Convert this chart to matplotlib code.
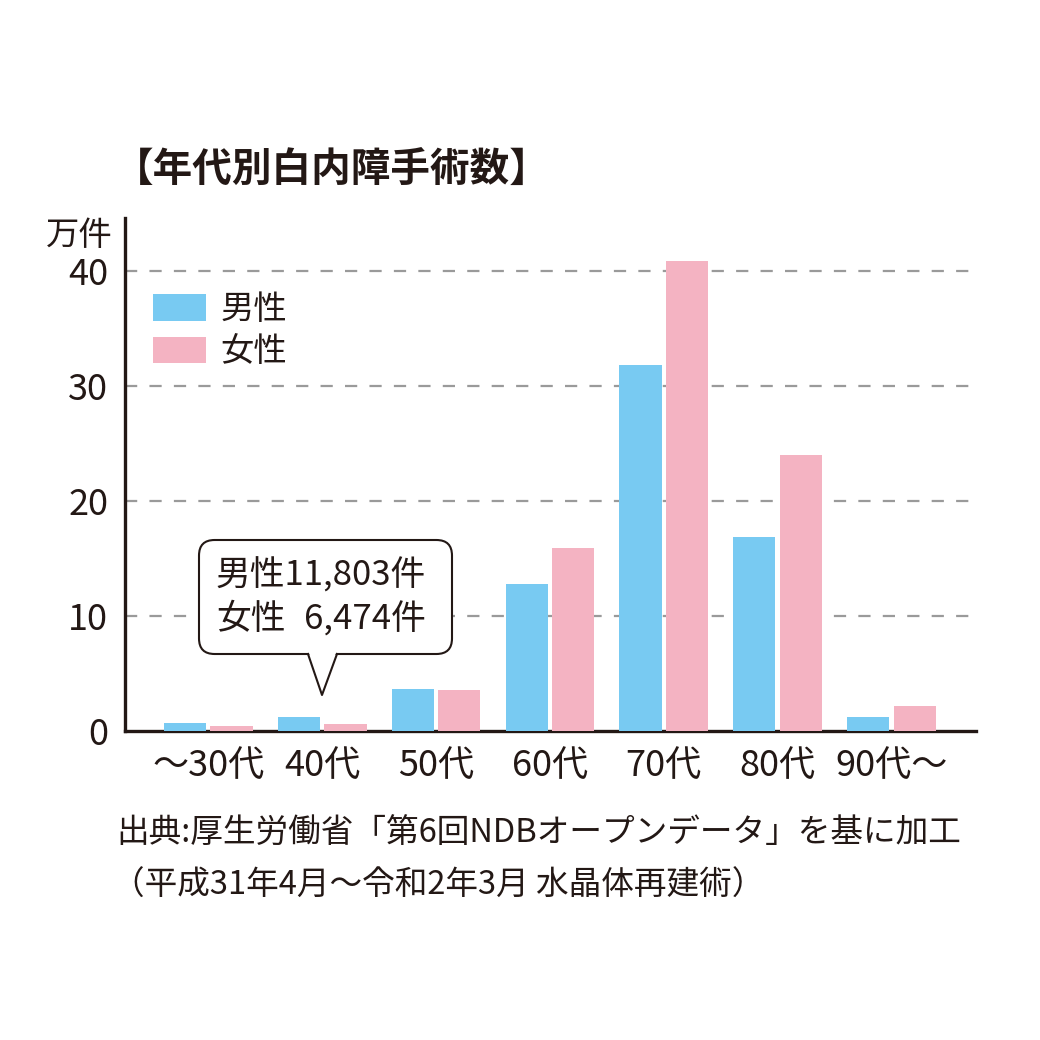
import matplotlib
matplotlib.use("Agg")
import matplotlib.pyplot as plt
import numpy as np
from matplotlib.patches import FancyBboxPatch, Polygon
from matplotlib.lines import Line2D

plt.rcParams['font.family'] = ['Noto Sans CJK JP', 'DejaVu Sans']

# data (万件)
age_groups = ['～30代', '40代', '50代', '60代', '70代', '80代', '90代～']
male = [0.70, 1.18, 3.65, 12.8, 31.8, 16.9, 1.19]
female = [0.45, 0.65, 3.55, 15.9, 40.9, 24.0, 2.2]
series_names = ['男性', '女性']
yticks = [0, 10, 20, 30, 40]

male_color = '#78CAF2'
female_color = '#F4B3C2'
ink = '#231815'

fig = plt.figure(figsize=(10.4, 10.4), dpi=100)
W = 1040.0

def fx(px):
    return px / W

def fy(py):
    return 1 - py / W

ax = fig.add_axes([fx(125), fy(731), fx(976) - fx(125), fy(218) - fy(731)])

x = np.arange(len(age_groups))
bw = 0.37
off = 0.205
ax.bar(x - off, male, bw, color=male_color, label=series_names[0], zorder=3)
ax.bar(x + off, female, bw, color=female_color, label=series_names[1], zorder=3)

ax.set_xlim(-0.73, len(age_groups) - 1 + 0.74)
ax.set_ylim(0, 44.6)

for v in yticks[1:]:
    ax.axhline(v, color='#9a9a9a', lw=1.6, ls=(0, (5.5, 5.5)), zorder=1)

for s in ['top', 'right']:
    ax.spines[s].set_visible(False)
ax.spines['left'].set_linewidth(2.4)
ax.spines['bottom'].set_linewidth(2.4)
ax.spines['left'].set_color(ink)
ax.spines['bottom'].set_color(ink)

ax.set_yticks(yticks)
ax.set_yticklabels([str(v) for v in yticks], fontsize=26, color=ink)
ax.set_xticks(x)
ax.set_xticklabels(age_groups, fontsize=26, color=ink)
ax.tick_params(axis='both', length=0)
ax.tick_params(axis='y', pad=12)
ax.tick_params(axis='x', pad=12)

leg = ax.legend(loc='upper left', bbox_to_anchor=(fx(153), fy(292)),
                bbox_transform=fig.transFigure, frameon=False, fontsize=24,
                handlelength=1.6, handleheight=0.85, handletextpad=0.42,
                labelspacing=0.22, borderpad=0, borderaxespad=0)
for t in leg.get_texts():
    t.set_color(ink)

# unit label
fig.text(fx(113), fy(236), '万件', fontsize=24, color=ink, ha='right', va='center')

# title
fig.text(fx(114), fy(170), '【年代別白内障手術数】', fontsize=28.5, fontweight='bold',
         color=ink, ha='left', va='center')

# callout
box = FancyBboxPatch((fx(199), fy(654)), fx(452) - fx(199), fy(540) - fy(654),
                     boxstyle='round,pad=0,rounding_size=0.015',
                     transform=fig.transFigure, facecolor='white',
                     edgecolor=ink, lw=1.5, zorder=5)
fig.add_artist(box)
tail_fill = Polygon([(fx(308), fy(650)), (fx(322), fy(695)), (fx(337), fy(650))],
                    closed=True, transform=fig.transFigure, facecolor='white',
                    edgecolor='none', zorder=6)
fig.add_artist(tail_fill)
tail_line = Line2D([fx(308), fx(322), fx(337)], [fy(654), fy(695), fy(654)],
                   transform=fig.transFigure, color=ink, lw=1.5, zorder=7)
fig.add_artist(tail_line)

call_male = '男性11,803件'
call_female = '6,474件'
line1 = fig.text(fx(216), fy(576), call_male, fontsize=25, color=ink,
                 ha='left', va='center', zorder=8)
fig.canvas.draw()
right_px = line1.get_window_extent().x1
fig.text(fx(216), fy(620), '女性', fontsize=25, color=ink, ha='left', va='center', zorder=8)
fig.text(right_px / W, fy(620), call_female, fontsize=25, color=ink,
         ha='right', va='center', zorder=8)

# source
fig.text(fx(116), fy(834), '出典:厚生労働省「第6回NDBオープンデータ」を基に加工',
         fontsize=23.5, color=ink, ha='left', va='center')
fig.text(fx(112), fy(886), '（平成31年4月～令和2年3月 水晶体再建術）',
         fontsize=23.5, color=ink, ha='left', va='center')

fig.savefig('out.png', dpi=100, facecolor='white')
